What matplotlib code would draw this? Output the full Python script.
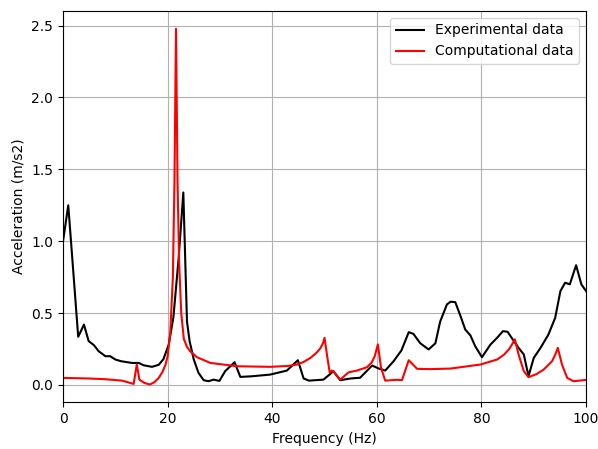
import numpy as np
import matplotlib
matplotlib.use("Agg")
import matplotlib.pyplot as plt

exp_freq = [0.0, 1.0, 2.0, 2.9, 4.0, 4.9, 5.9, 6.8, 8.1, 9.0, 10.0, 11.1, 13.2, 14.5,
            15.4, 17.0, 18.3, 19.2, 20.2, 21.1, 22.1, 23.0, 23.7, 24.2, 25.0, 25.9,
            26.9, 27.8, 28.8, 29.9, 31.0, 32.8, 33.9, 36.0, 39.6, 42.8, 44.9, 46.0,
            47.0, 49.8, 51.7, 53.0, 55.0, 56.8, 59.1, 60.3, 61.6, 63.2, 64.7, 66.1,
            67.0, 68.3, 69.9, 71.2, 72.1, 73.4, 74.1, 75.0, 76.0, 76.9, 77.9, 78.8,
            80.1, 81.7, 83.0, 84.1, 85.0, 86.2, 87.1, 88.1, 89.0, 90.0, 91.3, 92.8,
            94.1, 95.1, 96.0, 96.9, 98.1, 99.1, 100.0]
exp_acc = [1.0, 1.25, 0.77, 0.335, 0.42, 0.305, 0.277, 0.235, 0.2, 0.2, 0.177, 0.165,
           0.153, 0.153, 0.137, 0.126, 0.14, 0.18, 0.28, 0.47, 0.88, 1.339, 0.44,
           0.305, 0.177, 0.084, 0.033, 0.026, 0.037, 0.028, 0.096, 0.158, 0.056,
           0.06, 0.072, 0.1, 0.172, 0.045, 0.03, 0.037, 0.095, 0.033, 0.045, 0.05,
           0.135, 0.115, 0.1, 0.165, 0.24, 0.367, 0.355, 0.29, 0.247, 0.29, 0.44,
           0.56, 0.579, 0.576, 0.479, 0.386, 0.344, 0.27, 0.193, 0.28, 0.328, 0.374,
           0.37, 0.305, 0.258, 0.212, 0.061, 0.188, 0.258, 0.35, 0.467, 0.653,
           0.711, 0.7, 0.833, 0.7, 0.653]

# Computational data
comp_freq = [0.0, 4.9, 8.0, 11.3, 13.5, 14.1, 14.6, 15.5, 16.6, 17.5, 18.3, 19.0,
             19.6, 20.0, 20.5, 21.0, 21.3, 21.6, 21.9, 22.2, 22.6, 23.1, 23.7, 24.3,
             25.6, 28.2, 33.3, 39.6, 43.0, 44.7, 46.0, 47.3, 48.5, 49.2, 49.7, 50.0,
             50.5, 51.0, 51.4, 51.7, 53.0, 54.6, 56.2, 58.1, 59.0, 59.6, 60.2, 60.8,
             61.6, 63.9, 64.8, 66.1, 67.7, 70.2, 74.1, 79.8, 83.0, 84.3, 85.3, 85.9,
             86.4, 87.1, 88.1, 89.0, 90.5, 91.9, 93.5, 94.1, 94.6, 95.4, 96.4, 97.6,
             100.0]
comp_acc = [0.049, 0.045, 0.04, 0.03, 0.007, 0.142, 0.037, 0.015, 0.003, 0.02, 0.049,
            0.09, 0.142, 0.2, 0.36, 0.75, 1.4, 2.478, 1.4, 0.85, 0.5, 0.32, 0.265,
            0.235, 0.193, 0.153, 0.13, 0.126, 0.132, 0.142, 0.16, 0.188, 0.225, 0.255,
            0.29, 0.328, 0.2, 0.085, 0.1, 0.095, 0.037, 0.088, 0.1, 0.123, 0.155,
            0.2, 0.282, 0.12, 0.03, 0.036, 0.033, 0.172, 0.112, 0.11, 0.114, 0.142,
            0.177, 0.21, 0.25, 0.285, 0.317, 0.212, 0.096, 0.054, 0.075, 0.107, 0.165,
            0.21, 0.258, 0.142, 0.049, 0.026, 0.035]

fig = plt.figure(figsize=(5.98, 4.49), dpi=100)
ax = fig.add_axes([0.1054, 0.104, 0.8746, 0.8716])

ax.plot(exp_freq, exp_acc, color="black", label="Experimental data")
ax.plot(comp_freq, comp_acc, color="red", label="Computational data")

ax.set_xlim(0, 100)
ax.set_xlabel("Frequency (Hz)")
ax.set_ylabel("Acceleration (m/s2)")
ax.grid(True)
ax.legend(loc="upper right")

fig.savefig("out.png", dpi=100)
